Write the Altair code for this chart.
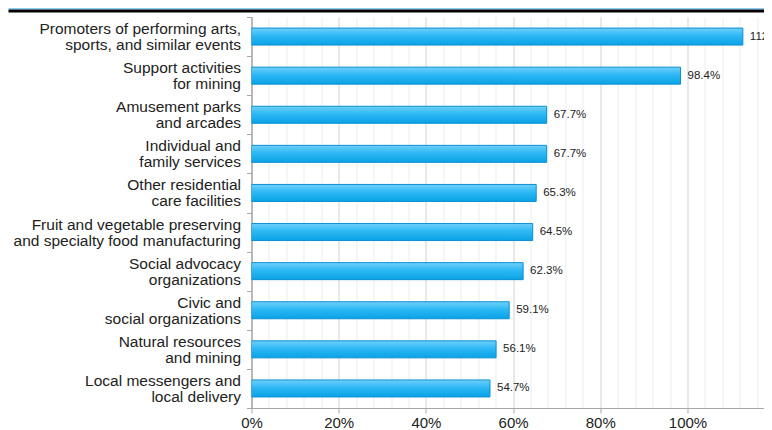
import altair as alt
import pandas as pd

categories = [
    ["Promoters of performing arts,", "sports, and similar events"],
    ["Support activities", "for mining"],
    ["Amusement parks", "and arcades"],
    ["Individual and", "family services"],
    ["Other residential", "care facilities"],
    ["Fruit and vegetable preserving", "and specialty food manufacturing"],
    ["Social advocacy", "organizations"],
    ["Civic and", "social organizations"],
    ["Natural resources", "and mining"],
    ["Local messengers and", "local delivery"],
]
values = [112.7, 98.4, 67.7, 67.7, 65.3, 64.5, 62.3, 59.1, 56.1, 54.7]
x_ticks = list(range(0, 121, 4))

# the reference is cropped at the right edge, a little short of 120%
X_MAX = 117.55
PLOT_W = 512.5

df = pd.DataFrame({
    "industry": ["|".join(c) for c in categories],
    "value": values,
})
order = df["industry"].tolist()

FONT = "Liberation Sans"

gradient = alt.LinearGradient(
    gradient="linear",
    stops=[
        alt.GradientStop(color="#6fd0fa", offset=0),
        alt.GradientStop(color="#2db8f4", offset=0.45),
        alt.GradientStop(color="#0aa2e6", offset=1),
    ],
    x1=0, x2=0, y1=0, y2=1,
)

x_enc = alt.X(
    "value:Q",
    scale=alt.Scale(domain=[0, X_MAX], nice=False, zero=True),
    axis=alt.Axis(
        values=[t for t in x_ticks if t <= X_MAX],
        labelExpr="datum.value % 20 === 0 ? datum.value + '%' : ''",
        title=None,
        grid=True,
        gridColor={"condition": {"test": "datum.value % 20 === 0", "value": "#d2d2d2"}, "value": "#ededed"},
        gridWidth=1,
        tickColor={"condition": {"test": "datum.value % 20 === 0", "value": "#a8a8a8"}, "value": "transparent"},
        tickSize=5,
        domainColor="#a8a8a8",
        labelFont=FONT,
        labelFontSize=15,
        labelColor="#222222",
        labelPadding=2,
        labelFlush=False,
        labelOverlap=False,
        labelBound=False,
    ),
)

y_enc = alt.Y(
    "industry:N",
    sort=order,
    scale=alt.Scale(paddingInner=0, paddingOuter=0),
    axis=alt.Axis(
        title=None,
        labelExpr="split(datum.label, '|')",
        labelFont=FONT,
        labelFontSize=15.5,
        labelColor="#222222",
        labelLineHeight=16,
        labelAlign="right",
        labelBaseline="middle",
        labelOffset=-8,
        labelLimit=400,
        tickBand="extent",
        tickSize=5,
        tickColor="#a8a8a8",
        domainColor="#a8a8a8",
        domainWidth=1.5,
        labelPadding=6,
        grid=False,
    ),
)

base = alt.Chart(df)

bars = base.mark_bar(
    size=17,
    color=gradient,
    stroke="#0b8fd2",
    strokeWidth=1,
    clip=True,
).encode(x=x_enc, y=y_enc)

labels = base.transform_calculate(
    lab="format(datum.value, '.1f') + '%'"
).mark_text(
    align="left", baseline="middle", dx=7, font=FONT, fontSize=11.5, color="#222222", clip=True
).encode(x=x_enc, y=y_enc, text="lab:N")

deco = alt.Data(values=[{"k": 1}])
blue_bar = alt.Chart(deco).mark_rect(color="#87cdf9").encode(
    x=alt.value(-243), x2=alt.value(PLOT_W), y=alt.value(-9), y2=alt.value(-7.5)
)
black_line = alt.Chart(deco).mark_rect(color="#000000").encode(
    x=alt.value(-243), x2=alt.value(PLOT_W), y=alt.value(-7.5), y2=alt.value(-4.5)
)

chart = alt.layer(bars, labels, blue_bar, black_line).properties(
    width=PLOT_W,
    height=391,
    autosize=alt.AutoSizeParams(type="none"),
    padding={"left": 243.5, "top": 9, "right": 0, "bottom": 22},
).configure_view(strokeWidth=0)

chart.save("out.html", embed_options={"renderer": "svg", "actions": False})
